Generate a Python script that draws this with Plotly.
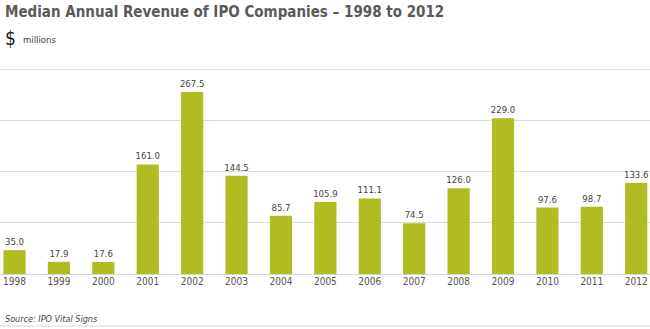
import plotly.graph_objects as go

years = ["1998", "1999", "2000", "2001", "2002", "2003", "2004", "2005",
         "2006", "2007", "2008", "2009", "2010", "2011", "2012"]
revenue = [35.0, 17.9, 17.6, 161.0, 267.5, 144.5, 85.7, 105.9,
           111.1, 74.5, 126.0, 229.0, 97.6, 98.7, 133.6]
labels = [f"{v:.1f}" for v in revenue]

COND = "Liberation Sans Narrow, DejaVu Sans Condensed, Arial Narrow, sans-serif"

TOP = 62.7
BASE = 274.3
PH = BASE - TOP

fig = go.Figure(go.Bar(
    x=list(range(len(years))), y=revenue,
    text=labels, textposition="outside", constraintext="none",
    textfont=dict(family=COND, size=9.5, color="#444444"),
    marker=dict(color="#b0bc22", line=dict(width=0)),
    width=0.5, cliponaxis=False, hoverinfo="skip",
))

fig.update_layout(
    width=650, height=329,
    margin=dict(l=0, r=0, t=TOP, b=329 - BASE),
    paper_bgcolor="white", plot_bgcolor="white",
    showlegend=False,
    xaxis=dict(range=[-0.327, 14.31], tickmode="array",
               tickvals=list(range(len(years))), ticktext=years,
               showgrid=False, zeroline=False, showline=False,
               ticks="", tickfont=dict(family=COND, size=10, color="#555555"),
               fixedrange=True),
    yaxis=dict(range=[0, 310], tickvals=[0, 75, 150, 225, 300],
               showticklabels=False, showgrid=True, gridcolor="#dddddd",
               gridwidth=1, zeroline=True, zerolinecolor="#d5d5d5",
               zerolinewidth=1, fixedrange=True),
    annotations=[
        dict(text="<b>Median Annual Revenue of IPO Companies – 1998 to 2012</b>",
             xref="paper", yref="paper", x=0, y=1,
             xanchor="left", yanchor="middle", showarrow=False,
             font=dict(family=COND, size=15, color="#5a5a5a"),
             xshift=3, yshift=TOP - 12),
        dict(text="$", xref="paper", yref="paper", x=0, y=1,
             xanchor="left", yanchor="middle", showarrow=False,
             font=dict(family=COND, size=19, color="#222222"),
             xshift=3, yshift=TOP - 38),
        dict(text="millions", xref="paper", yref="paper", x=0, y=1,
             xanchor="left", yanchor="middle", showarrow=False,
             font=dict(family=COND, size=9.5, color="#444444"),
             xshift=21, yshift=TOP - 39),
        dict(text="<i>Source: IPO Vital Signs</i>", xref="paper", yref="paper",
             x=0, y=0, xanchor="left", yanchor="middle", showarrow=False,
             font=dict(family=COND, size=9, color="#444444"),
             xshift=3, yshift=-(319 - BASE)),
    ],
)
ly = -(326.5 - BASE) / PH
fig.add_shape(type="line", xref="paper", yref="paper", x0=0, x1=1,
              y0=ly, y1=ly, line=dict(color="#d8d8d8", width=1))

fig.write_html("out.html")
